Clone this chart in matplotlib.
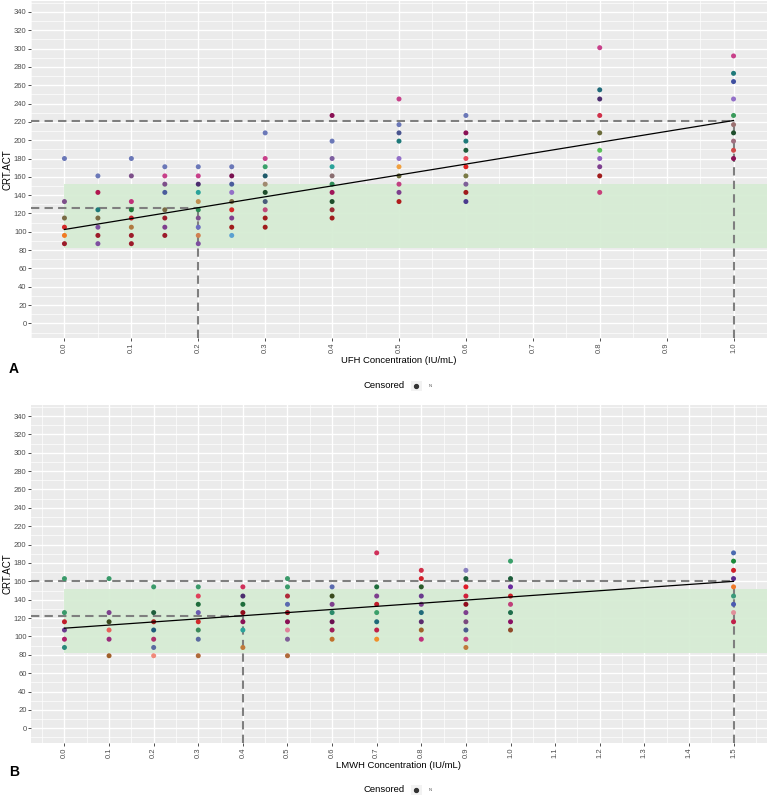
import matplotlib
matplotlib.use("Agg")
import matplotlib.pyplot as plt
import numpy as np
from matplotlib.patches import Rectangle

plt.rcParams['font.family'] = ['Liberation Sans', 'DejaVu Sans']

# ---------------- data: UFH panel (A) ----------------
ufh_conc = [0.0, 0.05, 0.1, 0.15, 0.2, 0.25, 0.3, 0.4, 0.5, 0.6, 0.8, 1.0]
ufh_act = [
    [180, 133, 115, 105, 96, 87],
    [161, 143, 124, 115, 105, 96, 87],
    [180, 161, 133, 124, 115, 105, 96, 87],
    [171, 161, 152, 143, 124, 115, 105, 96],
    [171, 161, 152, 143, 133, 124, 115, 105, 96, 87],
    [171, 161, 152, 143, 133, 124, 115, 105, 96],
    [208, 180, 171, 161, 152, 143, 133, 124, 115, 105],
    [227, 199, 180, 171, 161, 152, 143, 133, 124, 115],
    [245, 217, 208, 199, 180, 171, 161, 152, 143, 133],
    [227, 208, 199, 189, 180, 171, 161, 152, 143, 133],
    [301, 255, 245, 227, 208, 189, 180, 171, 161, 143],
    [292, 273, 264, 245, 227, 217, 208, 199, 189, 180],
]
ufh_colors = [
    ['#6b78b8', '#7d4f8a', '#7a6b45', '#d42a2a', '#f07b22', '#9c1b2a'],
    ['#6b78b8', '#b0174f', '#1f7a7a', '#7a6b45', '#7e4fa0', '#9c1b2a', '#7e4fa0'],
    ['#6b78b8', '#7d4f8a', '#c0307a', '#1f7a3a', '#c41e2a', '#b07a40', '#9c1b2a', '#9c1b2a'],
    ['#6b78b8', '#c8408a', '#7d4f8a', '#4a5c9c', '#7a6b45', '#9c1b2a', '#7e3f8e', '#9c1b2a'],
    ['#6b78b8', '#c8408a', '#4b2c6e', '#2aa39a', '#c09050', '#2e8b57', '#7e4f8e', '#6b6fc0', '#d08050', '#7e4fa0'],
    ['#6b78b8', '#7a1050', '#4a5c9c', '#9370c8', '#7a6b45', '#d42a2a', '#7e3f8e', '#a01c1c', '#5aa0d0'],
    ['#6b78b8', '#c8408a', '#3aa06a', '#1f5a6a', '#a08a70', '#1e4d2b', '#4a5c7c', '#c04a7a', '#a01c1c', '#a01c1c'],
    ['#8a1055', '#6b78b8', '#7e5fa0', '#2aa39a', '#8a6e70', '#2e8b57', '#a0165a', '#1e4d2b', '#9c2a35', '#a01c1c'],
    ['#c8408a', '#6b78b8', '#4a5590', '#1f7a7a', '#9370c8', '#f0a040', '#6b6b3a', '#c04080', '#7e3f8e', '#b01c1c'],
    ['#6b78b8', '#8a1055', '#1f7a7a', '#1e5d3b', '#e84a5a', '#e02020', '#7a7a45', '#7e5f98', '#a01c1c', '#4b3a8e'],
    ['#c8408a', '#1f6a7a', '#4b2c6e', '#d0304a', '#6b6b3a', '#5ac05a', '#9060c0', '#7e3f8e', '#a01c1c', '#c8407a'],
    ['#c8408a', '#1f7a7a', '#3f4fa0', '#9370c8', '#3a9a5a', '#9a7070', '#1e4d2b', '#a07080', '#d04a4a', '#8a1055'],
]
ufh_fit = (102.5, 119.0)          # intercept, slope
ufh_targets = [0.2, 1.0]
ufh_ticks = [0.0, 0.1, 0.2, 0.3, 0.4, 0.5, 0.6, 0.7, 0.8, 0.9, 1.0]

# ---------------- data: LMWH panel (B) ----------------
lmwh_conc = [0.0, 0.1, 0.2, 0.3, 0.4, 0.5, 0.6, 0.7, 0.8, 0.9, 1.0, 1.5]
lmwh_act = [
    [163, 126, 116, 107, 97, 88],
    [163, 126, 116, 107, 97, 79],
    [154, 126, 116, 107, 97, 88, 79],
    [154, 144, 135, 126, 116, 107, 97, 79],
    [154, 144, 135, 126, 116, 107, 88],
    [163, 154, 144, 135, 126, 116, 107, 97, 79],
    [154, 144, 135, 126, 116, 107, 97],
    [191, 154, 144, 135, 126, 116, 107, 97],
    [172, 163, 154, 144, 135, 126, 116, 107, 97],
    [172, 163, 154, 144, 135, 126, 116, 107, 97, 88],
    [182, 163, 154, 144, 135, 126, 116, 107],
    [191, 182, 172, 163, 154, 144, 135, 126, 116],
]
lmwh_colors = [
    ['#3a9a6a', '#3a9a6a', '#c01c2a', '#6a3a8e', '#b0206a', '#2a8a7a'],
    ['#3a9a6a', '#7e3f8e', '#3a4a1e', '#e8605a', '#9a2a7a', '#a0602a'],
    ['#3a9a6a', '#1e5d3b', '#a01c1c', '#1f5a7a', '#b0306a', '#5a6aa0', '#f08a7a'],
    ['#3a9a6a', '#e0405a', '#1e6d3b', '#6a5ab0', '#d02a2a', '#3a8a5a', '#5a6aa0', '#b06a3a'],
    ['#d0305a', '#4b2c6e', '#1e6d3b', '#900c1c', '#8a1055', '#2aa39a', '#c07a3a'],
    ['#3a9a6a', '#3a9a6a', '#b02a3a', '#5a6ab0', '#900c1c', '#8a1055', '#e0809a', '#7e5f98', '#b06a3a'],
    ['#5a6ab0', '#3a4a1e', '#7e3f8e', '#2a8a6a', '#6a1050', '#a01c5a', '#c0702a'],
    ['#d0305a', '#1e6d3b', '#7e3f8e', '#c01c2a', '#3aa06a', '#1f6a7a', '#c0204a', '#f0902a'],
    ['#d0304a', '#d0202a', '#2a5a2a', '#6a3a8e', '#7e3f8e', '#1f6a7a', '#5a2a6e', '#a0602a', '#c0307a'],
    ['#8a80c0', '#1e5d3b', '#e01c2a', '#d0203a', '#900c1c', '#7e3f8e', '#7a4a7e', '#4a5a8e', '#c0407a', '#c07a3a'],
    ['#3aa06a', '#1e5d3b', '#6a2a9e', '#d0202a', '#c0407a', '#1e6d4b', '#8a1065', '#904a2a'],
    ['#4a6ab0', '#1a8a3a', '#d0202a', '#5a2a8e', '#f07a2a', '#3a9a7a', '#4a5ab0', '#e0909a', '#c0204a'],
]
lmwh_fit = (109.0, 34.0)
lmwh_targets = [0.4, 1.5]
lmwh_ticks = [0.0, 0.1, 0.2, 0.3, 0.4, 0.5, 0.6, 0.7, 0.8, 0.9, 1.0, 1.1, 1.2, 1.3, 1.4, 1.5]

band = (82, 152)                  # therapeutic range shading
y_ticks = list(range(0, 341, 20))
y_lim = (-16, 352)

W, H = 769, 800
fig = plt.figure(figsize=(W / 100, H / 100), dpi=100)
fig.patch.set_facecolor('white')

TXT = '#4d4d4d'


def panel(rect, conc, act, cols, fit, targets, ticks, xlabel, letter, xl_y, leg_y, let_y):
    l, t, r, b = rect
    ax = fig.add_axes([l / W, 1 - b / H, (r - l) / W, (b - t) / H])
    ax.set_facecolor('#EBEBEB')
    xmax = ticks[-1]
    pad = 0.05 * xmax
    ax.set_xlim(-pad, xmax + pad)
    ax.set_ylim(*y_lim)
    ax.set_xticks(ticks)
    ax.set_xticklabels([f"{v:.1f}" for v in ticks], rotation=90)
    ax.set_xticks([v + 0.05 for v in ticks[:-1]] + [-0.05, xmax + 0.05], minor=True)
    ax.set_yticks(y_ticks)
    ax.set_yticks([v + 10 for v in y_ticks] + [-10], minor=True)
    ax.grid(which='major', color='white', lw=1.0)
    ax.grid(which='minor', color='white', lw=0.5)
    ax.set_axisbelow(True)
    for s in ax.spines.values():
        s.set_visible(False)
    ax.tick_params(which='major', labelsize=5.5, labelcolor=TXT, color='#333333',
                   length=2.2, width=0.6, pad=1.0)
    ax.tick_params(which='minor', length=0)
    # therapeutic band
    ax.add_patch(Rectangle((0, band[0]), xmax + pad, band[1] - band[0],
                           facecolor='#d6ecd4', edgecolor='none', alpha=0.95, zorder=1))
    # points
    for x, ys, cs in zip(conc, act, cols):
        ax.scatter([x] * len(ys), ys, c=cs, s=13, linewidths=0, zorder=3)
    # fit line
    a, bslope = fit
    xs = np.array([0.0, xmax])
    ax.plot(xs, a + bslope * xs, color='black', lw=0.9, zorder=4)
    # dashed guide lines
    for tx in targets:
        ty = a + bslope * tx
        ax.plot([-pad, tx], [ty, ty], color='#7f7f7f', lw=1.5, ls=(0, (4, 2.5)), zorder=2)
        ax.plot([tx, tx], [y_lim[0], ty], color='#7f7f7f', lw=1.5, ls=(0, (4, 2.5)), zorder=2)
    ax.set_ylabel('CRT.ACT', fontsize=7, color='black')
    ax.yaxis.set_label_coords((13 - l) / (r - l), 0.5)
    cx = (l + r) / 2 / W
    fig.text(cx, 1 - xl_y / H, xlabel, ha='center', va='center', fontsize=6.8, color='black')
    # legend
    fig.text(405 / W, 1 - leg_y / H, 'Censored', ha='right', va='center', fontsize=6.8, color='black')
    fig.patches.append(Rectangle((411 / W, 1 - (leg_y + 5) / H), 11 / W, 10 / H,
                                 transform=fig.transFigure, facecolor='#f2f2f2',
                                 edgecolor='none', figure=fig))
    fig.lines.append(plt.Line2D([416.5 / W], [1 - leg_y / H], marker='o', markersize=2.8,
                                color='#333333', transform=fig.transFigure, figure=fig))
    fig.text(429 / W, 1 - leg_y / H, 'N', ha='left', va='center', fontsize=3, color=TXT)
    fig.text(9 / W, 1 - let_y / H, letter, ha='left', va='center', fontsize=10,
             fontweight='bold', color='black')
    return ax


panel((31, 1, 767, 338), ufh_conc, ufh_act, ufh_colors, ufh_fit, ufh_targets, ufh_ticks,
      'UFH Concentration (IU/mL)', 'A', 361, 386, 369)
panel((31, 405, 767, 743), lmwh_conc, lmwh_act, lmwh_colors, lmwh_fit, lmwh_targets, lmwh_ticks,
      'LMWH Concentration (IU/mL)', 'B', 765, 790, 772)

fig.savefig('out.png', dpi=100)
